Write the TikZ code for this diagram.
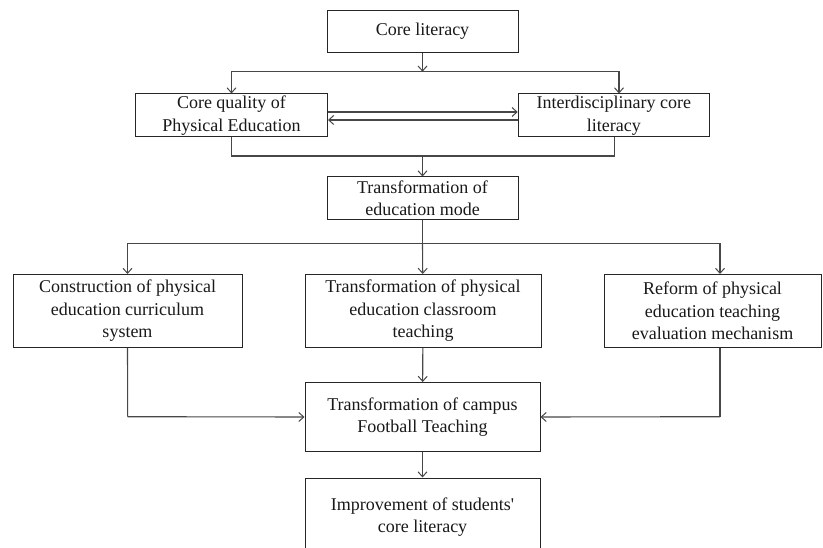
\documentclass[tikz,border=0pt]{standalone}
\usepackage{fontspec}
\setmainfont{Liberation Serif}
\usetikzlibrary{arrows.meta}
\begin{document}
\begin{tikzpicture}[x=1pt,y=-1pt,
  box/.style={draw=black!85, line width=1pt, align=center, inner sep=0pt,
    font=\fontsize{18pt}{22.5pt}\selectfont, text=black!90},
  conn/.style={draw=black!72, line width=1.1pt},
  arr/.style={conn, -{Straight Barb[length=5pt,width=9pt,line width=1pt]}}]
\useasboundingbox (0,0) rectangle (823,548);
\clip (0,0) rectangle (823,548);
\fill[white] (0,0) rectangle (823,548);

\node[box, minimum width=191pt, minimum height=42pt] (cl) at (422.5,31.5) {Core literacy};
\node[box, minimum width=192pt, minimum height=43pt] (cq) at (231.5,115.5) {Core quality of\\Physical Education};
\node[box, minimum width=191pt, minimum height=43pt] (id) at (613.75,115.5) {Interdisciplinary core\\literacy};
\node[box, minimum width=191pt, minimum height=43pt] (tm) at (422.5,198.5) {Transformation of\\education mode};
\node[box, minimum width=229pt, minimum height=73pt] (cs) at (127.5,311) {Construction of physical\\education curriculum\\system};
\node[box, minimum width=236pt, minimum height=73pt] (tc) at (423,311) {Transformation of physical\\education classroom\\teaching};
\node[box, minimum width=217pt, minimum height=73pt] (rf) at (712.5,311) {Reform of physical\\education teaching\\evaluation mechanism};
\node[box, minimum width=235pt, minimum height=69pt] (ft) at (422.5,417) {Transformation of campus\\Football Teaching};
\node[box, minimum width=235pt, minimum height=78pt] (im) at (422.5,517) {Improvement of students\textquotesingle\\core literacy};

\coordinate (j1) at (422.5,71.7);
\coordinate (j2) at (422.5,156);
\coordinate (j3) at (422.5,243.3);
\coordinate (l4) at (127.7,416.7);
\coordinate (r4) at (720,416.7);

\draw[arr] (cl) -- (j1);
\draw[arr] (j1) -| (cq.north);
\draw[arr] (j1) -| ([xshift=5.25pt]id.north);
\draw[arr] ([yshift=3.5pt]cq.east) -- ([yshift=3.5pt]id.west);
\draw[arr] ([yshift=-4.5pt]id.west) -- ([yshift=-4.5pt]cq.east);
\draw[conn] (cq.south) |- (j2) -| ([xshift=0.5pt]id.south);
\draw[arr] (j2) -- (tm);
\draw[conn] (tm) -- (j3);
\draw[arr] (j3) -| (cs.north);
\draw[arr] (j3) -- (tc);
\draw[arr] (j3) -| ([xshift=7.5pt]rf.north);
\draw[conn] (cs.south) -- (l4);
\draw[arr] (l4) -- (ft.west);
\draw[conn] ([xshift=7.5pt]rf.south) -- (r4);
\draw[arr] (r4) -- (ft.east);
\draw[arr] (tc) -- (ft);
\draw[arr] (ft) -- (im);
\end{tikzpicture}
\end{document}
